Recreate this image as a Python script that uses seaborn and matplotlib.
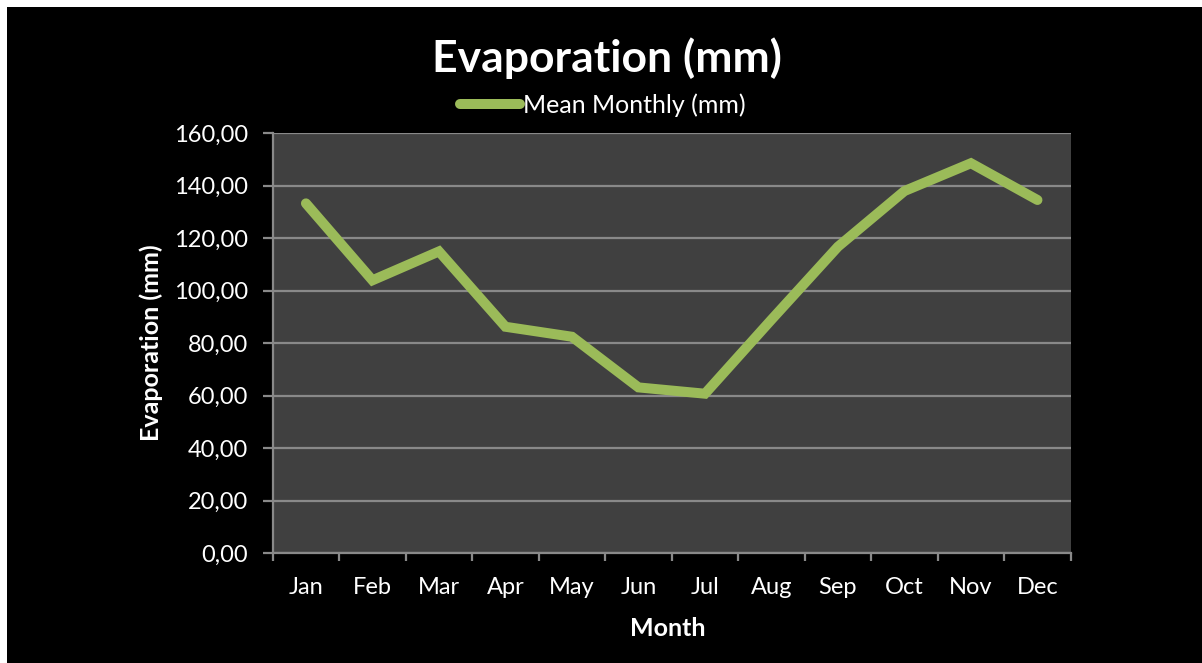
import pandas as pd
import matplotlib
matplotlib.use("Agg")
import matplotlib.pyplot as plt
from matplotlib.patches import Rectangle
import seaborn as sns

# Дані
months = ["Jan", "Feb", "Mar", "Apr", "May", "Jun",
          "Jul", "Aug", "Sep", "Oct", "Nov", "Dec"]
evaporation = [133.3, 104.0, 115.0, 86.3, 82.5, 63.2,
               60.8, 89.0, 116.8, 138.0, 148.6, 134.6]
y_ticks = [0, 20, 40, 60, 80, 100, 120, 140, 160]
y_tick_labels = ["0,00", "20,00", "40,00", "60,00", "80,00", "100,00",
                 "120,00", "140,00", "160,00"]

df = pd.DataFrame({"month": months, "evap": evaporation})

sns.set_theme(style="dark")
plt.rcParams["font.family"] = ["Lato", "DejaVu Sans"]

GREEN = "#9BBB59"
GRID = "#898989"

fig = plt.figure(figsize=(12.02, 6.63), dpi=100)
fig.patch.set_facecolor("white")
# чорне тло з білою смугою зверху і зліва
fig.add_artist(Rectangle((7 / 1202, 0), 1, 1 - 7 / 663, transform=fig.transFigure,
                         facecolor="black", edgecolor="none", zorder=-10))

ax = fig.add_axes([272.7 / 1202, 1 - 553.3 / 663, 798 / 1202, 420 / 663])
ax.set_facecolor("#404040")

sns.lineplot(data=df, x="month", y="evap", ax=ax, color=GREEN, linewidth=7.2,
             sort=False, label="Mean Monthly (mm)")
ax.lines[0].set_solid_capstyle("round")
ax.lines[0].set_solid_joinstyle("miter")

ax.set_xlim(-0.5, len(months) - 0.5)
ax.set_ylim(0, 160)
ax.set_yticks(y_ticks)
ax.set_yticklabels(y_tick_labels)
ax.yaxis.grid(True, color=GRID, linewidth=1.6)
ax.xaxis.grid(False)

ax.set_xticks(range(len(months)))
ax.set_xticklabels(months)
ax.set_xticks([i - 0.5 for i in range(len(months) + 1)], minor=True)
ax.tick_params(axis="x", which="major", length=0, pad=17, labelsize=17, labelcolor="white")
ax.tick_params(axis="x", which="minor", length=6, width=1.6, color=GRID, direction="out",
               bottom=True)
ax.tick_params(axis="y", which="major", length=7, width=1.6, color=GRID, direction="out",
               left=True, pad=11, labelsize=17, labelcolor="white")

for side in ["top", "right"]:
    ax.spines[side].set_visible(False)
for side in ["left", "bottom"]:
    ax.spines[side].set_visible(True)
    ax.spines[side].set_color(GRID)
    ax.spines[side].set_linewidth(1.6)

ax.set_xlabel("")
ax.set_ylabel("")
fig.text(668 / 1202, 1 - 628 / 663, "Month", ha="center", va="center",
         fontsize=18, fontweight="bold", color="white")
fig.text(151 / 1202, 1 - 343 / 663, "Evaporation (mm)", ha="center", va="center",
         rotation=90, fontsize=18, fontweight="bold", color="white")
fig.text(607 / 1202, 1 - 58 / 663, "Evaporation (mm)", ha="center", va="center",
         fontsize=32, fontweight="bold", color="white")

leg = ax.legend(loc="center", bbox_to_anchor=(603 / 1202, 1 - 105 / 663),
                bbox_transform=fig.transFigure, frameon=False, fontsize=18,
                handlelength=2.4, handletextpad=0.1, labelcolor="white")

fig.savefig("out.png", dpi=100, facecolor=fig.get_facecolor())
